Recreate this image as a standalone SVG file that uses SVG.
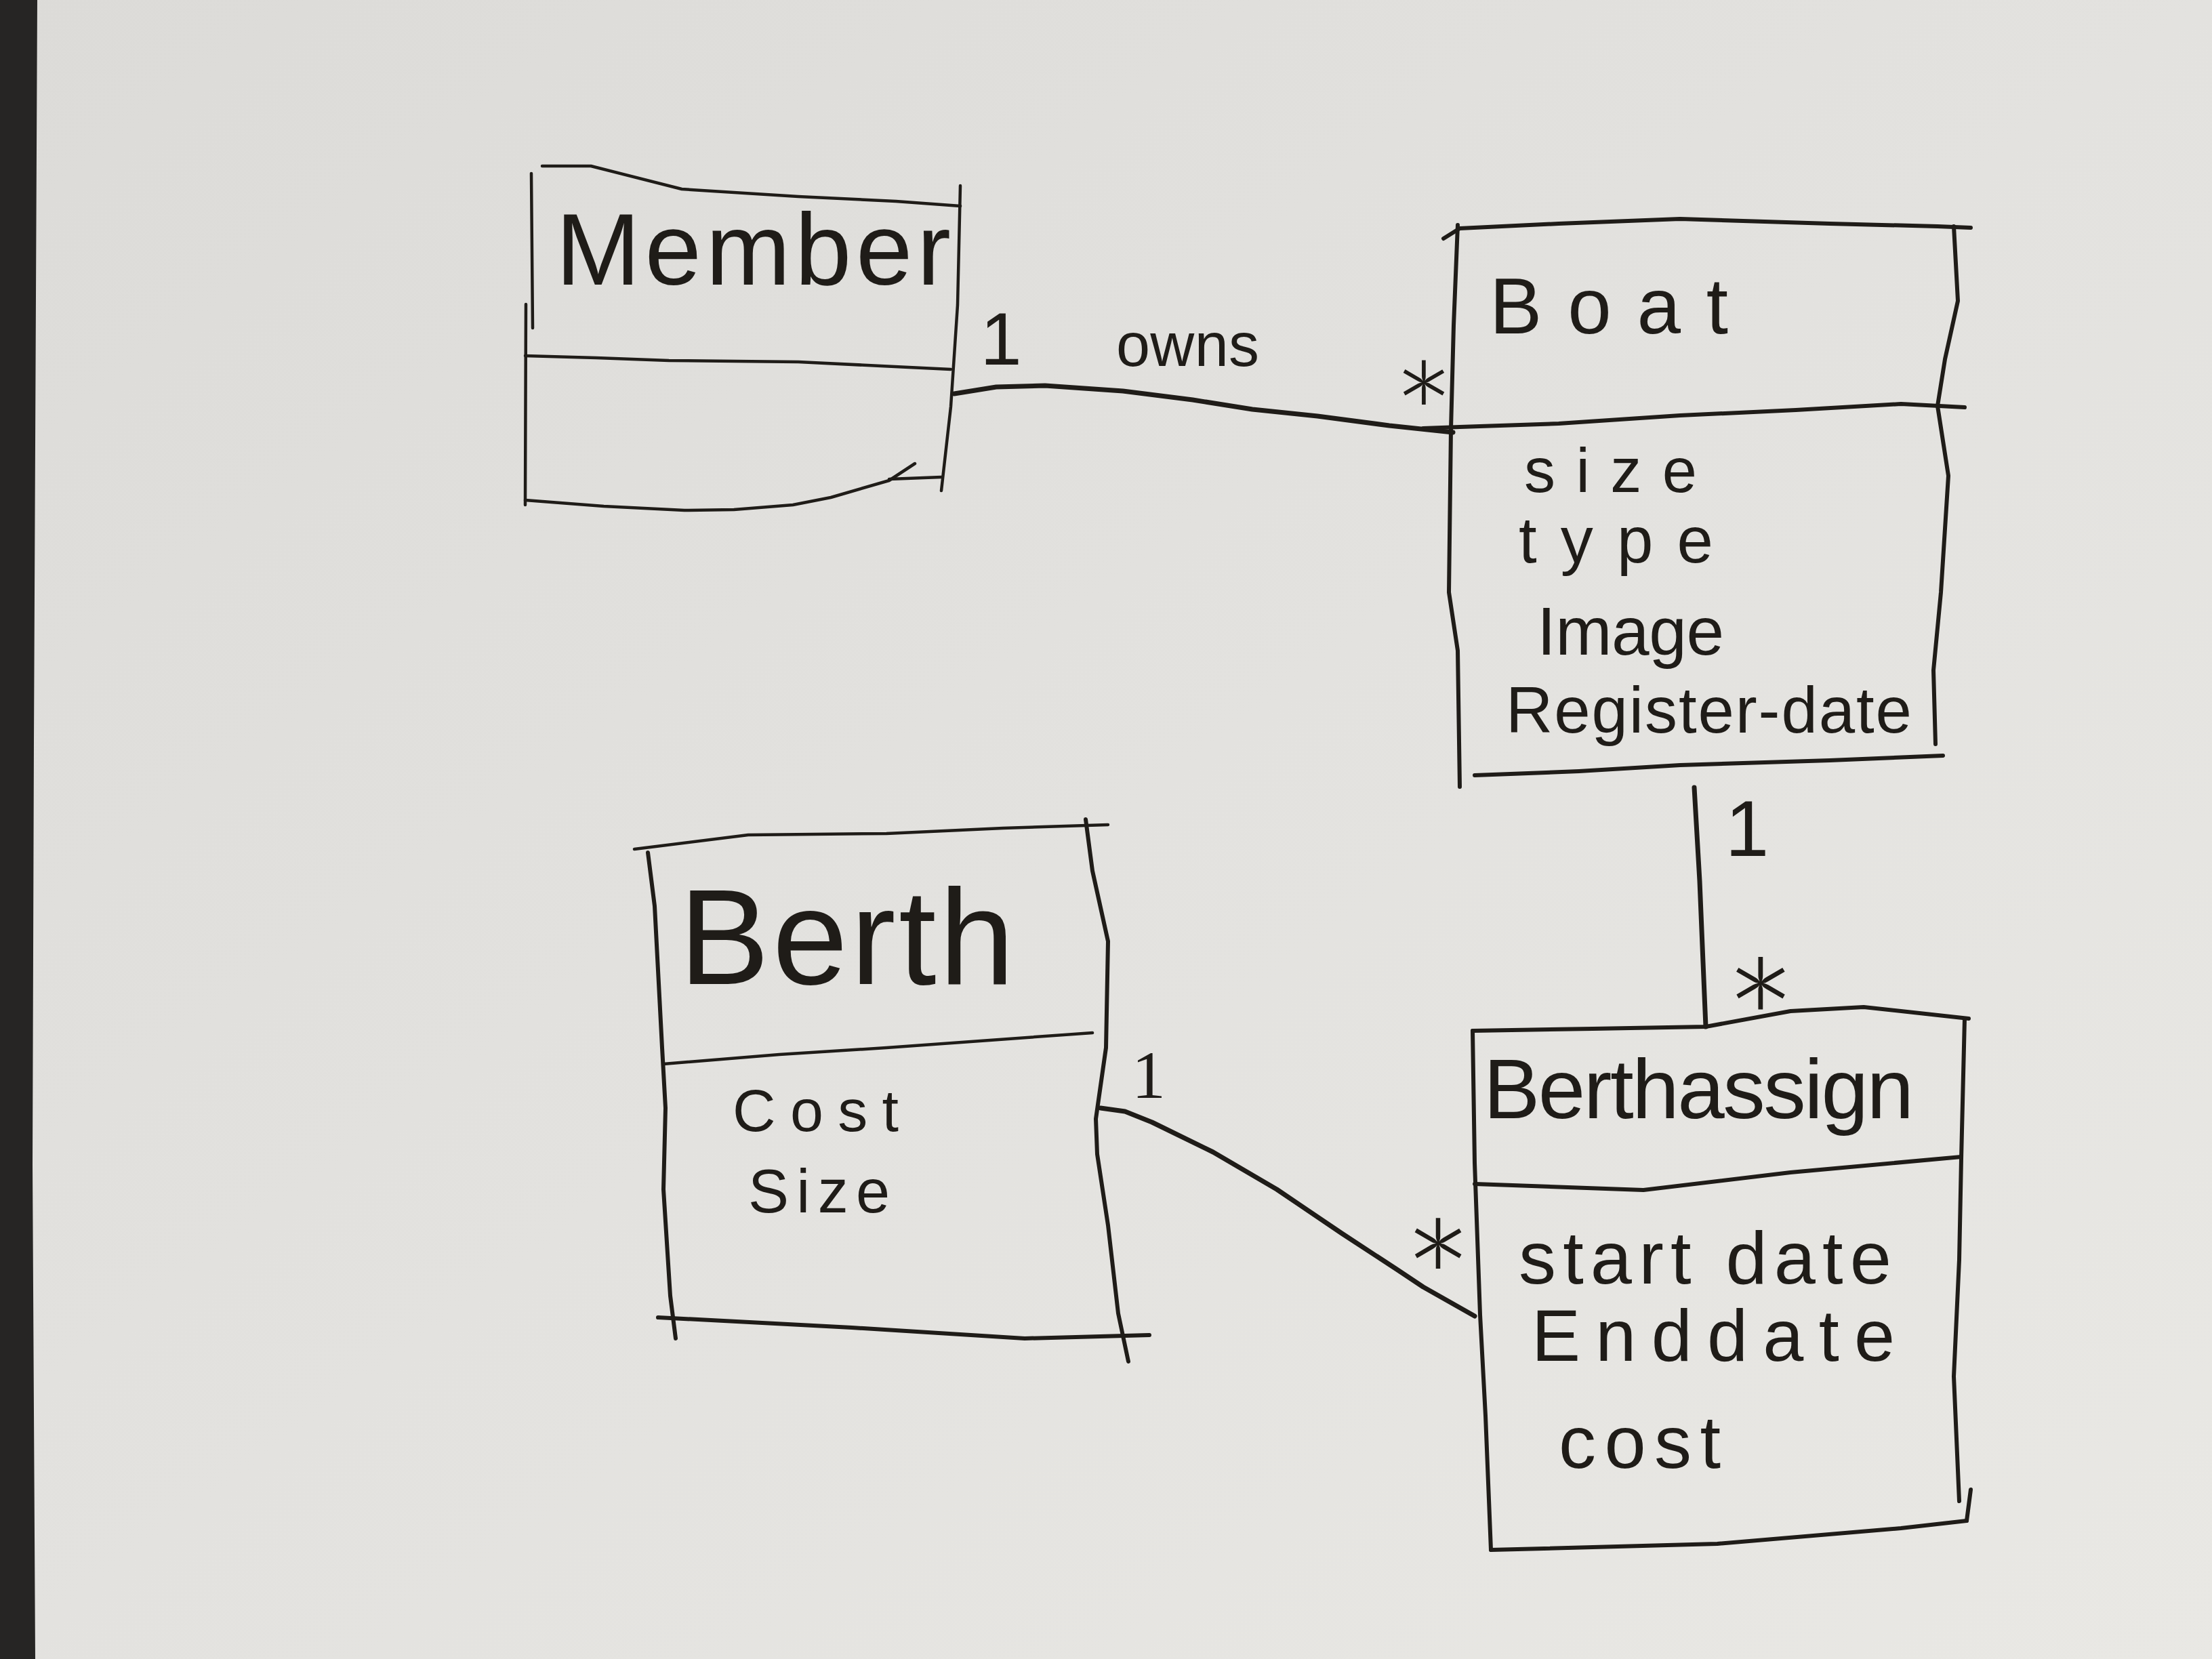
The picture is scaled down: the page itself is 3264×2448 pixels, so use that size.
<svg xmlns="http://www.w3.org/2000/svg" width="3264" height="2448" viewBox="0 0 3264 2448">
<defs>
<linearGradient id="paper" x1="0" y1="0" x2="1" y2="1">
<stop offset="0" stop-color="#dcdbd8"/>
<stop offset="0.5" stop-color="#e3e2df"/>
<stop offset="1" stop-color="#e9e8e4"/>
</linearGradient>
<style>
.ln{fill:none;stroke:#1f1c18;stroke-width:6;stroke-linecap:round;stroke-linejoin:round}
.thin{stroke-width:4.5}
.conn{fill:none;stroke:#1f1c18;stroke-width:7;stroke-linecap:round;stroke-linejoin:round}
.t{font-family:"Liberation Sans","Noto Sans",sans-serif;fill:#1f1c18}
.s{font-family:"Liberation Serif",serif;fill:#1f1c18}
.star{font-family:Lato,"Liberation Sans",sans-serif;font-weight:300;fill:#1f1c18;text-anchor:middle}
</style>
</defs>
<rect x="0" y="0" width="3264" height="2448" fill="url(#paper)"/>
<path d="M0,0 L55,0 L50,1094 L48,1719 L52,2448 L0,2448 Z" fill="#262524"/>

<g id="connectors">
<polyline class="conn" points="1408,581 1470,571 1542,569 1657,577 1760,590 1848,604 1944,614 2050,628 2144,638"/>
<polyline class="conn" points="2500,1162 2508,1300 2513,1420 2517,1515"/>
<polyline class="conn" points="1624,1635 1660,1640 1700,1656 1790,1700 1884,1755 1980,1820 2061,1873 2100,1899 2176,1942"/>
<text class="t" x="1477" y="538" font-size="110" text-anchor="middle">1</text>
<text class="t" x="1647" y="540" font-size="90" textLength="211">owns</text>
<text class="star" x="2101" y="695" font-size="220">*</text>
<text class="t" x="2578" y="1263" font-size="116" text-anchor="middle">1</text>
<text class="star" x="2598" y="1606" font-size="260">*</text>
<text class="s" x="1695" y="1620" font-size="100" text-anchor="middle">1</text>
<text class="star" x="2122" y="1985" font-size="250">*</text>
</g>

<g id="member">
<polyline class="ln thin" points="800,245 872,245 1006,279 1178,290 1322,297 1417,304"/>
<polyline class="ln thin" points="784,256 786,484"/>
<polyline class="ln thin" points="776,449 775,745"/>
<polyline class="ln thin" points="1417,274 1413,450 1403,600 1389,724"/>
<polyline class="ln thin" points="775,525 880,528 987,532 1178,534 1300,540 1403,545"/>
<polyline class="ln thin" points="775,738 891,747 1010,753 1083,752 1170,745 1226,734 1312,709 1350,684"/>
<polyline class="ln thin" points="1312,707 1389,704"/>
<text class="t" x="820" y="420" font-size="150" textLength="583">Member</text>
</g>

<g id="boat">
<polyline class="ln" points="2130,352 2154,337 2300,330 2479,323 2700,330 2859,334 2908,336"/>
<polyline class="ln" points="2151,332 2145,480 2141,633 2138,874 2151,960 2154,1161"/>
<polyline class="ln" points="2883,334 2889,444 2870,530 2859,599 2875,702 2864,874 2853,989 2856,1098"/>
<polyline class="ln" points="2100,632 2154,630 2300,625 2479,613 2650,605 2805,596 2899,601"/>
<polyline class="ln" points="2176,1144 2330,1138 2479,1129 2700,1122 2867,1115"/>
<text class="t" x="2198" y="492" font-size="116" textLength="352">Boat</text>
<text class="t" x="2249" y="726" font-size="92" textLength="255">size</text>
<text class="t" x="2241" y="830" font-size="96" textLength="287">type</text>
<text class="t" x="2268" y="966" font-size="100" textLength="276">Image</text>
<text class="t" x="2222" y="1081" font-size="96" textLength="599">Register-date</text>
</g>

<g id="berth">
<polyline class="ln thin" points="936,1253 1104,1232 1308,1230 1480,1222 1635,1217"/>
<polyline class="ln" points="956,1258 966,1337 977,1546 982,1635 979,1755 989,1912 997,1975"/>
<polyline class="ln" points="1602,1209 1612,1285 1635,1389 1632,1546 1617,1651 1619,1703 1635,1808 1650,1938 1665,2009"/>
<polyline class="ln thin" points="979,1570 1150,1556 1308,1546 1612,1524"/>
<polyline class="ln" points="971,1944 1257,1959 1512,1975 1696,1970"/>
<text class="t" x="1002" y="1452" font-size="200" textLength="495">Berth</text>
<text class="t" x="1081" y="1669" font-size="88" textLength="245">Cost</text>
<text class="t" x="1104" y="1789" font-size="90" textLength="209">Size</text>
</g>

<g id="berthassign">
<polyline class="ln" points="2173,1521 2350,1518 2517,1515 2642,1492 2750,1486 2905,1503"/>
<polyline class="ln" points="2173,1521 2176,1716 2184,1940 2192,2089 2200,2287"/>
<polyline class="ln" points="2899,1503 2894,1710 2891,1859 2883,2031 2891,2215"/>
<polyline class="ln" points="2908,2198 2902,2244"/>
<polyline class="ln" points="2176,1747 2425,1756 2642,1730 2894,1707"/>
<polyline class="ln" points="2200,2287 2534,2278 2805,2255 2902,2244"/>
<text class="t" x="2189" y="1650" font-size="125" textLength="635">Berthassign</text>
<text class="t" x="2241" y="1894" font-size="110" textLength="550">start date</text>
<text class="t" x="2260" y="2008" font-size="108" textLength="536">Enddate</text>
<text class="t" x="2300" y="2166" font-size="110" textLength="239">cost</text>
</g>
</svg>
